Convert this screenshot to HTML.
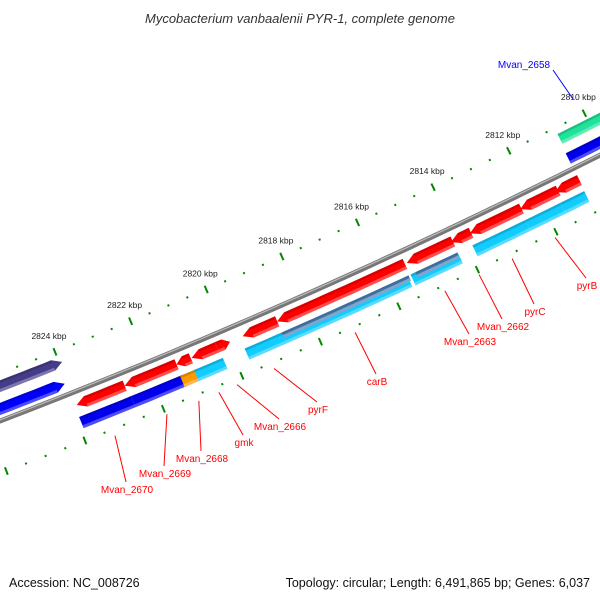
<!DOCTYPE html>
<html><head><meta charset="utf-8"><style>
body{margin:0;background:#fff}
svg{display:block;font-family:"Liberation Sans","DejaVu Sans",sans-serif}
</style></head><body>
<svg id="chart" width="600" height="600" viewBox="0 0 600 600" xmlns="http://www.w3.org/2000/svg">
<rect width="600" height="600" fill="#fff"/>
<text x="300" y="23" text-anchor="middle" font-size="13" font-style="italic" fill="#333">Mycobacterium vanbaalenii PYR-1, complete genome</text>
<text x="9" y="587" font-size="12.5" fill="#111">Accession: NC_008726</text>
<text x="590" y="587" text-anchor="end" font-size="12.5" fill="#111">Topology: circular; Length: 6,491,865 bp; Genes: 6,037</text>
<g id="ticks"></g><g id="backbone"></g><g id="features"></g><g id="labels"></g>
</svg>
<script>
// data (kbp)
const tickLabels = [2810, 2812, 2814, 2816, 2818, 2820, 2822, 2824];
const featStart = [2823.29,2822.05,2820.71,2820.32,2819.67,2819.00,2818.11,2814.76,2813.62,2813.13,2811.83,2810.93,
  2823.13,2821.80,2820.54,2820.18,2818.88,2817.96,2814.62,2814.52,2813.03,2811.67,2810.77,
  2825.54,2825.62,2810.68,2810.52];
const featEnd = [2822.05,2820.71,2820.34,2819.67,2819.33,2818.11,2814.81,2813.57,2813.10,2811.80,2810.85,2810.30,
  2821.80,2820.46,2820.11,2819.44,2814.70,2814.70,2813.41,2813.46,2811.67,2810.77,2810.16,
  2823.78,2823.66,2809.49,2809.55];
const featTrack = [1,1,1,1,1,1,1,1,1,1,1,1, 2,2,2,2,2,2.5,2,2.5,2,2,2, -2,-1,-2,-1];
const featDir = [-1,-1,-1,-1,1,-1,-1,-1,-1,-1,-1,-1, 0,0,0,0,0,0,0,0,0,0,0, 1,1,0,0];
const featColor = ['#f00','#f00','#f00','#f00','#f00','#f00','#f00','#f00','#f00','#f00','#f00','#f00',
  '#00e','#00e','#f90','#1cf','#1cf','#4a80b8','#1cf','#4a80b8','#1cf','#1cf','#1cf',
  '#443c88','#00f','#1fe39a','#00e'];
const geneLabels = ['Mvan_2670','Mvan_2669','Mvan_2668','gmk','Mvan_2666','pyrF','carB','Mvan_2663','Mvan_2662','pyrC','pyrB'];
const geneLabelKbp = [2822.22,2820.90,2820.09,2819.58,2819.12,2818.18,2816.12,2813.84,2812.97,2812.13,2811.04];

const NS='http://www.w3.org/2000/svg';
// visual x of kbp k at ring offset d
function XK(k,d){return 300-(k-2817.52)*38.5*(1+0.0004*d);}
function f(x){return 421-0.383*x-0.0001*x*x;}
function nrm(x){const m=-0.383-0.0002*x;const L=Math.hypot(m,1);return [-m/L,1/L];}
function P(x,d){const n=nrm(x);return [x+d*n[0], f(x)+d*n[1]];}
function B(x,dc){let x0=x;for(let i=0;i<3;i++)x0=x-dc*nrm(x0)[0];return x0;}
function el(tag,parent,attrs){const e=document.createElementNS(NS,tag);for(const k in attrs)e.setAttribute(k,attrs[k]);parent.appendChild(e);return e;}

// backbone
const bb=document.getElementById('backbone');
let pts=[];for(let x=-20;x<=620;x+=10){const p=P(x,0);pts.push(p[0].toFixed(1)+','+p[1].toFixed(1));}
const b1=el('polyline',bb,{points:pts.join(' '),fill:'none',stroke:'#777','stroke-width':5});


pts=[];for(let x=-20;x<=620;x+=10){const p=P(x,-1);pts.push(p[0].toFixed(1)+','+p[1].toFixed(1));}
el('polyline',bb,{points:pts.join(' '),fill:'none',stroke:'#bbb','stroke-width':1.2});

// ticks
const tg=document.getElementById('ticks');
for(let k=2807;k<=2828;k+=0.5){
  const isInt=Math.abs(k-Math.round(k))<1e-6;
  [[-44.5,true],[49,false]].forEach(([d,upper])=>{
    const xv=XK(k,d);if(xv<-20||xv>620)return;
    const major=isInt&&((Math.round(k)%2===0)===upper);
    const len=major?4:1;
    const x0=B(xv,d);
    const a=P(x0,d-len),b=P(x0,d+len);
    const t=el('line',tg,{x1:a[0],y1:a[1],x2:b[0],y2:b[1],stroke:'#080','stroke-width':2});
    
    
  });
}
tickLabels.forEach(k=>{
  const xv=XK(k,-44.5);const p=P(B(xv,-44.5),-44.5);
  const t=el('text',tg,{x:p[0]-6,y:p[1]-13,'text-anchor':'middle','font-size':8.5,fill:'#222'});
  t.textContent=k+' kbp';
  
  
});

// features
const fg=document.getElementById('features');
const trackOff={1:[7.5,18.5],2:[25,37],2.5:[25,31],'-1':[-17,-5.5],'-2':[-38,-27]};
featStart.forEach((s,i)=>{
  const [d0,d1]=trackOff[featTrack[i]];const dm=(d0+d1)/2;const dir=featDir[i];
  let x1=B(XK(s,dm),dm),x2=B(XK(featEnd[i],dm),dm);if(x1>x2){const t=x1;x1=x2;x2=t;}
  const head=Math.min(9,(x2-x1)*0.5);
  const top=[],bot=[];
  const a=dir===-1?x1+head:x1, b=dir===1?x2-head:x2;
  const n=Math.max(2,Math.ceil((b-a)/8));
  for(let j=0;j<=n;j++){const x=a+(b-a)*j/n;top.push(P(x,d0));bot.push(P(x,d1));}
  let poly=[];
  if(dir===-1)poly.push(P(x1,dm));
  poly=poly.concat(top);
  if(dir===1)poly.push(P(x2,dm));
  poly=poly.concat(bot.reverse());
  const g=el('polygon',fg,{points:poly.map(p=>p[0].toFixed(1)+','+p[1].toFixed(1)).join(' '),fill:featColor[i]});
  
  
  const hl=[];for(let j=0;j<=n;j++){const x=a+(b-a)*j/n;hl.push(P(x,d0+1.2));}
  el('polyline',fg,{points:hl.map(p=>p[0].toFixed(1)+','+p[1].toFixed(1)).join(' '),fill:'none',stroke:'#000','stroke-opacity':0.15,'stroke-width':2.5});
  const sh=[];for(let j=0;j<=n;j++){const x=a+(b-a)*j/n;sh.push(P(x,d1-1.5));}
  el('polyline',fg,{points:sh.map(p=>p[0].toFixed(1)+','+p[1].toFixed(1)).join(' '),fill:'none',stroke:'#fff','stroke-opacity':0.3,'stroke-width':3});
});

// gene labels
const lg=document.getElementById('labels');
const labelPos=[[127,493],[165,477],[202,462],[244,446],[280,430],[318,413],[377,385],[470,345],[503,330],[535,315],[587,289]];
geneLabels.forEach((name,i)=>{
  const xv=XK(geneLabelKbp[i],56);const [tx,ty]=labelPos[i];
  const l=el('line',lg,{x1:xv,y1:f(xv)+60,x2:tx-1,y2:ty-11,stroke:'#f00','stroke-width':1});
  
  
  const t=el('text',lg,{x:tx,y:ty,'text-anchor':'middle','font-size':10,fill:'#f00'});
  t.textContent=name;
  
  
});
const l2=el('line',lg,{x1:553,y1:70,x2:573,y2:99,stroke:'#00f','stroke-width':1});


const t2=el('text',lg,{x:524,y:68,'text-anchor':'middle','font-size':10,fill:'#00f'});
t2.textContent='Mvan_2658';


</script>
</body></html>
